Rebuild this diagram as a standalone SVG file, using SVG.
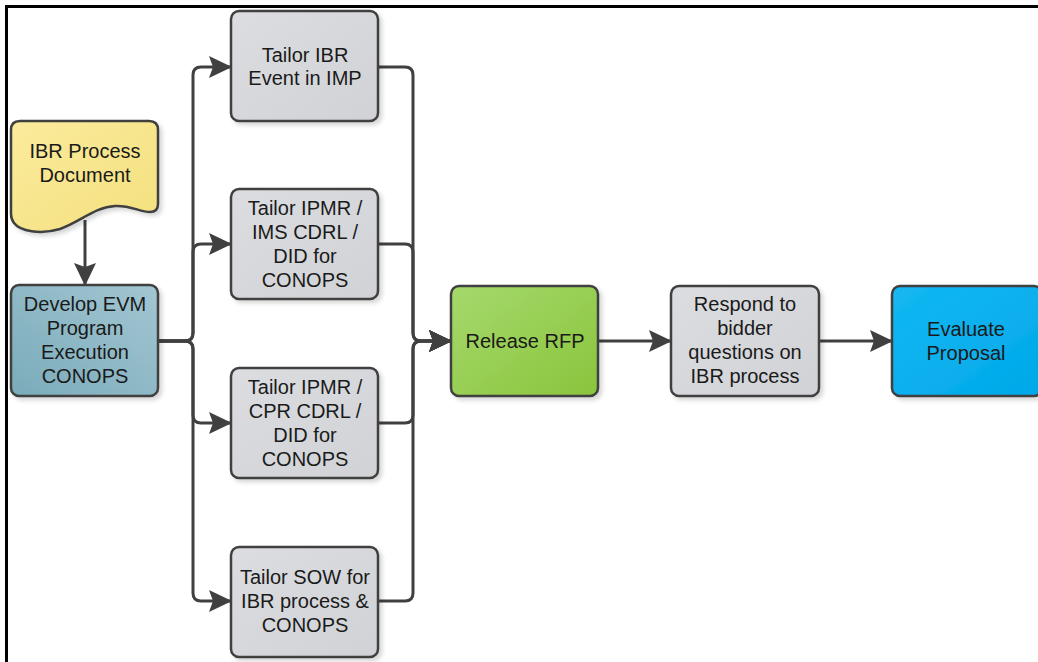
<svg xmlns="http://www.w3.org/2000/svg" width="1038" height="662" viewBox="0 0 1038 662">
<style>
  .box { stroke: #404040; stroke-width: 2.5; }
  .lbl { font-family: "Liberation Sans", Arial, sans-serif; font-size: 20px; fill: #1a1a1a; text-anchor: middle; }
  .conn { fill: none; stroke: #404040; stroke-width: 3; }
</style>
<defs>
  <marker id="arr" markerUnits="userSpaceOnUse" markerWidth="23" markerHeight="23" viewBox="0 0 23 23" refX="22" refY="11.5" orient="auto">
    <path d="M0 0.5 L23 11.5 L0 22.5 L4 11.5 Z" fill="#404040"/>
  </marker>
  <filter id="sh" x="-10%" y="-10%" width="130%" height="130%">
    <feDropShadow dx="3" dy="3" stdDeviation="2" flood-color="#000" flood-opacity="0.16"/>
  </filter>
  <linearGradient id="gGray" x1="0" y1="0" x2="1" y2="1">
    <stop offset="0" stop-color="#dcdde0"/>
    <stop offset="1" stop-color="#d1d2d6"/>
  </linearGradient>
  <linearGradient id="gBlueGray" x1="0" y1="1" x2="1" y2="0">
    <stop offset="0" stop-color="#7aabba"/>
    <stop offset="1" stop-color="#a3c6d2"/>
  </linearGradient>
  <linearGradient id="gGreen" x1="0" y1="0" x2="1" y2="1">
    <stop offset="0" stop-color="#a5d96c"/>
    <stop offset="1" stop-color="#8ac43c"/>
  </linearGradient>
  <linearGradient id="gBlue" x1="0" y1="0" x2="1" y2="1">
    <stop offset="0" stop-color="#14b8f2"/>
    <stop offset="1" stop-color="#00a8e8"/>
  </linearGradient>
  <linearGradient id="gYellow" x1="0" y1="0" x2="1" y2="1">
    <stop offset="0" stop-color="#fbeb9c"/>
    <stop offset="1" stop-color="#f4e07e"/>
  </linearGradient>
</defs>
<rect x="0" y="0" width="1038" height="662" fill="#ffffff"/>
<rect x="6.5" y="6.5" width="1100" height="700" fill="none" stroke="#000" stroke-width="3"/>

<g id="connectors">
  <path class="conn" d="M85 220 V285" marker-end="url(#arr)"/>
  <path class="conn" d="M158 341 H185 Q193 341 193 333 V75 Q193 67 201 67 H231" marker-end="url(#arr)"/>
  <path class="conn" d="M158 341 H185 Q193 341 193 333 V252 Q193 244 201 244 H231" marker-end="url(#arr)"/>
  <path class="conn" d="M158 341 H185 Q193 341 193 349 V415 Q193 423 201 423 H231" marker-end="url(#arr)"/>
  <path class="conn" d="M158 341 H185 Q193 341 193 349 V593 Q193 601 201 601 H231" marker-end="url(#arr)"/>
  <path class="conn" d="M378 67 H405 Q413 67 413 75 V333 Q413 341 421 341 H451" marker-end="url(#arr)"/>
  <path class="conn" d="M378 244 H405 Q413 244 413 252 V333 Q413 341 421 341 H451" marker-end="url(#arr)"/>
  <path class="conn" d="M378 423 H405 Q413 423 413 415 V349 Q413 341 421 341 H451" marker-end="url(#arr)"/>
  <path class="conn" d="M378 601 H405 Q413 601 413 593 V349 Q413 341 421 341 H451" marker-end="url(#arr)"/>
  <path class="conn" d="M598 341 H671" marker-end="url(#arr)"/>
  <path class="conn" d="M819 341 H892" marker-end="url(#arr)"/>
</g>

<g id="doc">
  <path class="box" filter="url(#sh)" fill="url(#gYellow)" d="M11 130 Q11 121 20 121 H149 Q158 121 158 130 V204 Q158 212 150 212 C140 212 130 205 115 206 C95 207 80 222 60 229 C40 235 20 231 14 223 Q11 219 11 214 Z"/>
  <text class="lbl"><tspan x="85" y="158">IBR Process</tspan><tspan x="85" y="182">Document</tspan></text>
</g>

<g id="develop">
  <rect class="box" filter="url(#sh)" fill="url(#gBlueGray)" x="11" y="285" width="147" height="111" rx="8"/>
  <text class="lbl"><tspan x="85" y="311">Develop EVM</tspan><tspan x="85" y="335">Program</tspan><tspan x="85" y="359">Execution</tspan><tspan x="85" y="383">CONOPS</tspan></text>
</g>

<g id="tailor-ibr">
  <rect class="box" filter="url(#sh)" fill="url(#gGray)" x="231" y="11" width="147" height="110" rx="8"/>
  <text class="lbl"><tspan x="305" y="62">Tailor IBR</tspan><tspan x="305" y="85">Event in IMP</tspan></text>
</g>

<g id="tailor-ims">
  <rect class="box" filter="url(#sh)" fill="url(#gGray)" x="231" y="189" width="147" height="110" rx="8"/>
  <text class="lbl"><tspan x="305" y="215">Tailor IPMR /</tspan><tspan x="305" y="239">IMS CDRL /</tspan><tspan x="305" y="263">DID for</tspan><tspan x="305" y="287">CONOPS</tspan></text>
</g>

<g id="tailor-cpr">
  <rect class="box" filter="url(#sh)" fill="url(#gGray)" x="231" y="368" width="147" height="110" rx="8"/>
  <text class="lbl"><tspan x="305" y="394">Tailor IPMR /</tspan><tspan x="305" y="418">CPR CDRL /</tspan><tspan x="305" y="442">DID for</tspan><tspan x="305" y="466">CONOPS</tspan></text>
</g>

<g id="tailor-sow">
  <rect class="box" filter="url(#sh)" fill="url(#gGray)" x="231" y="547" width="147" height="110" rx="8"/>
  <text class="lbl"><tspan x="305" y="584">Tailor SOW for</tspan><tspan x="305" y="608">IBR process &amp;</tspan><tspan x="305" y="632">CONOPS</tspan></text>
</g>

<g id="release">
  <rect class="box" filter="url(#sh)" fill="url(#gGreen)" x="451" y="286" width="147" height="110" rx="8"/>
  <text class="lbl"><tspan x="525" y="348">Release RFP</tspan></text>
</g>

<g id="respond">
  <rect class="box" filter="url(#sh)" fill="url(#gGray)" x="671" y="286" width="148" height="110" rx="8"/>
  <text class="lbl"><tspan x="745" y="311">Respond to</tspan><tspan x="745" y="335">bidder</tspan><tspan x="745" y="359">questions on</tspan><tspan x="745" y="383">IBR process</tspan></text>
</g>

<g id="evaluate">
  <rect class="box" filter="url(#sh)" fill="url(#gBlue)" x="892" y="286" width="150" height="110" rx="8"/>
  <text class="lbl"><tspan x="966" y="336">Evaluate</tspan><tspan x="966" y="360">Proposal</tspan></text>
</g>
</svg>
